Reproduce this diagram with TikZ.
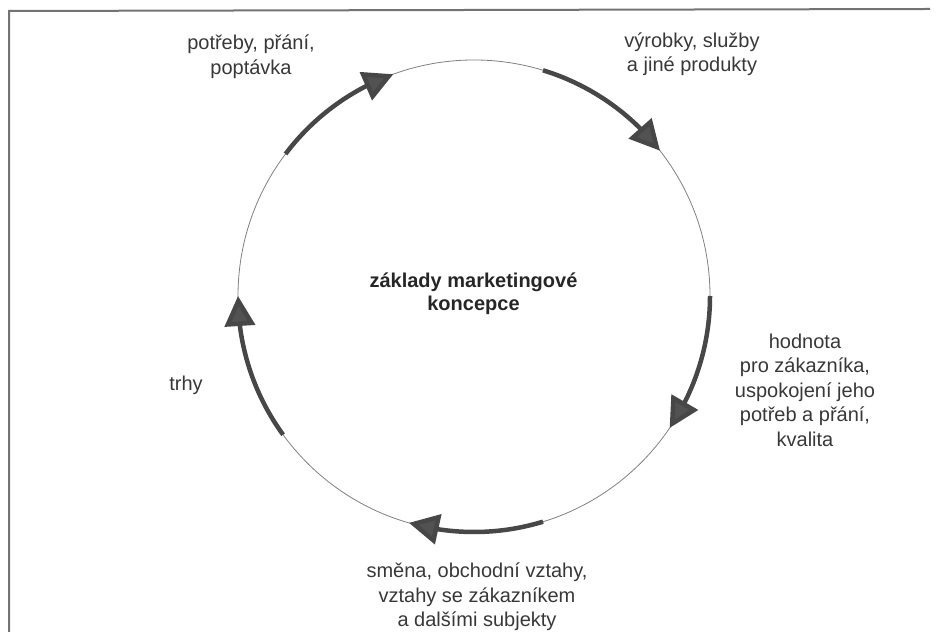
\documentclass[tikz,border=0pt]{standalone}
\usepackage{fontspec}
\setmainfont{Liberation Sans}
\usetikzlibrary{arrows.meta,bending}
\begin{document}
\begin{tikzpicture}[x=1pt,y=1pt,
  ring/.style={draw=black!50,line width=0.8pt},
  flowarc/.style={draw=black!72,line width=4.5pt,
    -{Triangle[length=30pt,width=30pt,fill=black!68,flex]}},
  lbl/.style={text=black!78,align=center,font=\fontsize{20}{24.5}\selectfont,inner sep=0pt},
  title/.style={text=black!85,align=center,font=\fontsize{20}{23}\selectfont\bfseries,inner sep=0pt},
  frame/.style={draw=black!55,line width=2pt}]
\useasboundingbox (0,0) rectangle (939,636);
% frame
\coordinate (fb) at (9,4);
\coordinate (fc) at (9,625);
\coordinate (fr) at (930,627);
\draw[frame] (fb) -- (fc) -- (fr);
% circle
\coordinate (C) at (474,340);
\node[ring,circle,minimum size=472pt,inner sep=0pt] (ring) at (C) {};
% arcs
\draw[flowarc] ([shift={(143:236)}]C) arc[start angle=143,end angle=110,radius=236];
\draw[flowarc] ([shift={(73:236)}]C) arc[start angle=73,end angle=38,radius=236];
\draw[flowarc] ([shift={(0:236)}]C) arc[start angle=0,end angle=-34,radius=236];
\draw[flowarc] ([shift={(-73:236)}]C) arc[start angle=-73,end angle=-106,radius=236];
\draw[flowarc] ([shift={(-144:236)}]C) arc[start angle=-144,end angle=-180,radius=236];
% labels
\node[title] (center) at (473.5,342.5) {základy marketingové\\koncepce};
\node[lbl] (needs) at (251,579.5) {potřeby, přání,\\poptávka};
\node[lbl] (products) at (692,582) {výrobky, služby\\a jiné produkty};
\node[lbl] (value) at (805,246) {hodnota\\pro zákazníka,\\uspokojení jeho\\potřeb a přání,\\kvalita};
\node[lbl] (exchange) at (477,39) {směna, obchodní vztahy,\\vztahy se zákazníkem\\a dalšími subjekty};
\node[lbl] (markets) at (186,251) {trhy};
\end{tikzpicture}
\end{document}
